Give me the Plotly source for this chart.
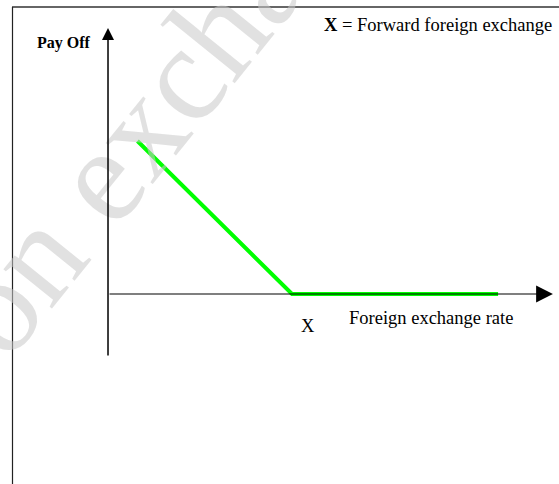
import plotly.graph_objects as go

# Payoff data (foreign exchange rate vs pay off), strike X at 100
rate = [16, 100, 212]
payoff = [84, 0, 0]
strike = 100

W, H = 559, 484
x_range = [-58.70, 245.11]
y_range = [-104.34, 161.45]

fig = go.Figure()

fig.add_trace(go.Scatter(
    x=rate, y=payoff, mode="lines",
    line=dict(color="#00ff00", width=4),
    hoverinfo="skip", showlegend=False,
))

serif = "Liberation Serif, Times New Roman, serif"
ann = []

# watermark
ann.append(dict(
    text="on exchange", xref="paper", yref="paper",
    x=186 / W, y=1 - 70 / H, xanchor="center", yanchor="middle",
    showarrow=False, textangle=-51,
    font=dict(family=serif, size=136, color="rgba(200,200,200,0.55)"),
))

# y axis with arrow
ann.append(dict(
    x=0, y=146.1, ax=0, ay=-34.6, xref="x", yref="y", axref="x", ayref="y",
    text="", showarrow=True, arrowhead=2, arrowsize=1.6, arrowwidth=1.5,
    arrowcolor="black", standoff=0,
))
# x axis with arrow
ann.append(dict(
    x=241.8, y=0, ax=0, ay=0, xref="x", yref="y", axref="x", ayref="y",
    text="", showarrow=True, arrowhead=2, arrowsize=2.8, arrowwidth=1.2,
    arrowcolor="black", standoff=0,
))

ann.append(dict(
    text="<b>Pay Off</b>", xref="paper", yref="paper",
    x=64 / W, y=1 - 43 / H, xanchor="center", yanchor="middle",
    showarrow=False, font=dict(family=serif, size=16, color="black"),
))
ann.append(dict(
    text="<b>X</b> = Forward foreign exchange", xref="paper", yref="paper",
    x=322 / W, y=1 - 25 / H, xanchor="left", yanchor="middle",
    showarrow=False, font=dict(family=serif, size=18.5, color="black"),
))
ann.append(dict(
    text="Foreign exchange rate", xref="paper", yref="paper",
    x=347 / W, y=1 - 318 / H, xanchor="left", yanchor="middle",
    showarrow=False, font=dict(family=serif, size=18.5, color="black"),
))
ann.append(dict(
    text="X", x=strike + 8.5, y=-17.5, xref="x", yref="y",
    xanchor="center", yanchor="middle",
    showarrow=False, font=dict(family=serif, size=18.5, color="black"),
))

shapes = [
    dict(type="line", xref="paper", yref="paper", x0=12 / W, x1=1, y0=1 - 7 / H, y1=1 - 7 / H,
         line=dict(color="#666666", width=2)),
    dict(type="line", xref="paper", yref="paper", x0=12.5 / W, x1=12.5 / W, y0=1 - 7 / H, y1=0,
         line=dict(color="#222222", width=1.2)),
]

fig.update_layout(
    width=W, height=H,
    margin=dict(l=0, r=0, t=0, b=0),
    paper_bgcolor="white", plot_bgcolor="white",
    xaxis=dict(range=x_range, visible=False, fixedrange=True),
    yaxis=dict(range=y_range, visible=False, fixedrange=True),
    annotations=ann, shapes=shapes,
    showlegend=False,
)

fig.write_html(
    "out.html",
    config={"displayModeBar": False},
    post_script="document.body.style.margin='0';document.body.style.padding='0';",
)
